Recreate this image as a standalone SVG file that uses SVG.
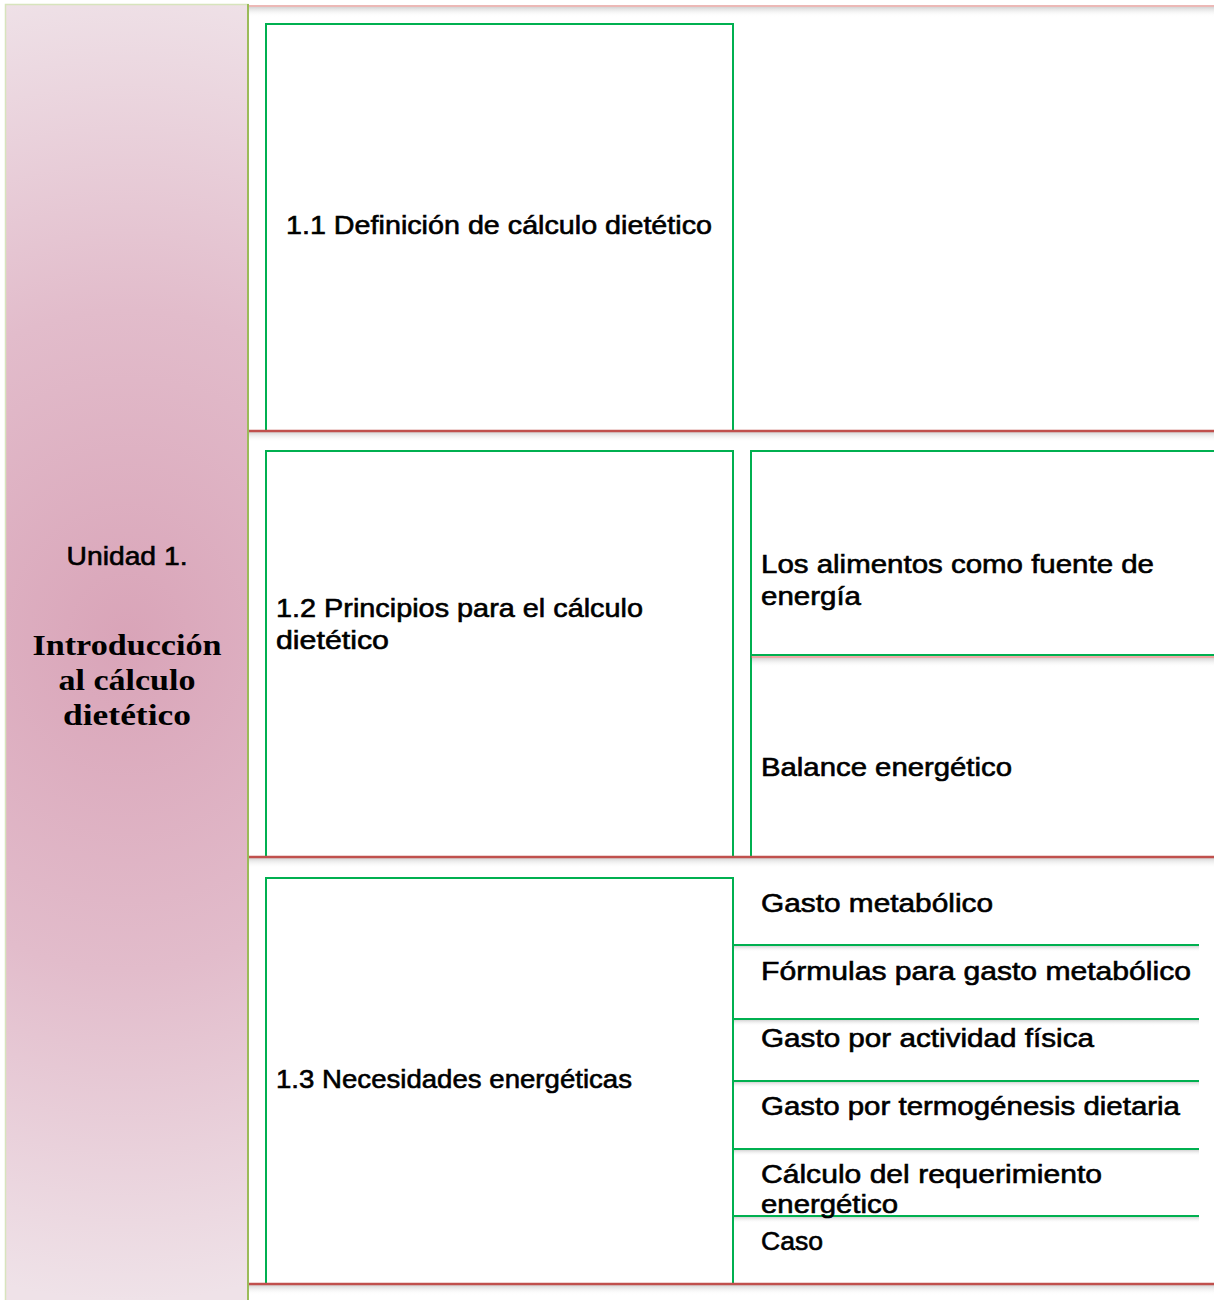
<svg xmlns="http://www.w3.org/2000/svg" width="1214" height="1300" viewBox="0 0 1214 1300">
  <defs>
    <radialGradient id="unitFill" cx="127" cy="640" r="660" gradientUnits="userSpaceOnUse" gradientTransform="translate(127 640) scale(0.9 1) translate(-127 -640)">
      <stop offset="0" stop-color="#d9a4b8"/>
      <stop offset="0.5" stop-color="#e2bccb"/>
      <stop offset="1" stop-color="#efe2e8"/>
    </radialGradient>
    <linearGradient id="shadow" x1="0" y1="0" x2="0" y2="1">
      <stop offset="0" stop-color="#cfcfcf" stop-opacity="0.9"/>
      <stop offset="1" stop-color="#ffffff" stop-opacity="0"/>
    </linearGradient>
    <style>
      .box { fill: #ffffff; stroke: #00b050; stroke-width: 2; }
      .green { stroke: #00b050; stroke-width: 2; fill: none; }
      .red { stroke: #c0504d; stroke-width: 2.5; fill: none; }
      .shade { fill: url(#shadow); }
      .t { font-family: "Liberation Sans", "DejaVu Sans", sans-serif; font-size: 26px; fill: #000000; stroke: #000000; stroke-width: 0.6; }
      .serif { font-family: "Liberation Serif", "DejaVu Serif", serif; font-size: 30px; font-weight: bold; fill: #000000; }
    </style>
  </defs>

  <rect width="1214" height="1300" fill="#ffffff"/>

  <!-- unit column -->
  <g id="unit">
    <rect x="5.5" y="4.5" width="242.5" height="1300" fill="url(#unitFill)" stroke="#d7e4bc" stroke-width="1.5"/>
    <line x1="248" y1="4" x2="248" y2="1300" stroke="#9bbb59" stroke-width="2"/>
    <text class="t" x="127" y="565" text-anchor="middle" textLength="121" lengthAdjust="spacingAndGlyphs">Unidad 1.</text>
    <text class="serif" x="127" y="655" text-anchor="middle" textLength="189" lengthAdjust="spacingAndGlyphs">Introducción</text>
    <text class="serif" x="127" y="690" text-anchor="middle" textLength="137" lengthAdjust="spacingAndGlyphs">al cálculo</text>
    <text class="serif" x="127" y="725" text-anchor="middle" textLength="128" lengthAdjust="spacingAndGlyphs">dietético</text>
  </g>

  <!-- row separators with their shadows -->
  <g id="connectors">
    <rect class="shade" x="249" y="7" width="965" height="10"/>
    <line x1="249" y1="6" x2="1214" y2="6" stroke="#e6a09e" stroke-width="1.5"/>
    <rect class="shade" x="249" y="432" width="965" height="10"/>
    <rect class="shade" x="249" y="858" width="965" height="10"/>
    <rect class="shade" x="249" y="1285" width="965" height="10"/>
    <rect class="shade" x="751" y="658" width="463" height="9"/>
    <rect class="shade" x="734" y="946" width="465" height="6"/>
    <rect class="shade" x="734" y="1020" width="465" height="6"/>
    <rect class="shade" x="734" y="1082" width="465" height="6"/>
    <rect class="shade" x="734" y="1150" width="465" height="6"/>
    <rect class="shade" x="734" y="1217" width="465" height="6"/>
  </g>

  <!-- 1.1 -->
  <g id="topic-1-1">
    <rect class="box" x="266" y="24" width="467" height="407"/>
    <text class="t" x="286" y="234" textLength="426" lengthAdjust="spacingAndGlyphs">1.1 Definición de cálculo dietético</text>
  </g>

  <!-- 1.2 -->
  <g id="topic-1-2">
    <rect class="box" x="266" y="451" width="467" height="406"/>
    <text class="t" x="276" y="617" textLength="367" lengthAdjust="spacingAndGlyphs">1.2 Principios para el cálculo</text>
    <text class="t" x="276" y="649" textLength="113" lengthAdjust="spacingAndGlyphs">dietético</text>
  </g>

  <g id="topic-1-2-a">
    <path class="green" d="M751 657 V451 H1215"/>
    <line class="green" x1="751" y1="655" x2="1214" y2="655"/>
    <text class="t" x="761" y="573" textLength="393" lengthAdjust="spacingAndGlyphs">Los alimentos como fuente de</text>
    <text class="t" x="761" y="605" textLength="100" lengthAdjust="spacingAndGlyphs">energía</text>
  </g>

  <g id="topic-1-2-b">
    <line class="green" x1="751" y1="657" x2="751" y2="857"/>
    <line x1="751" y1="657" x2="1214" y2="657" stroke="#e05050" stroke-width="1"/>
    <text class="t" x="761" y="776" textLength="251" lengthAdjust="spacingAndGlyphs">Balance energético</text>
  </g>

  <!-- 1.3 -->
  <g id="topic-1-3">
    <rect class="box" x="266" y="878" width="467" height="406"/>
    <text class="t" x="276" y="1088" textLength="356" lengthAdjust="spacingAndGlyphs">1.3 Necesidades energéticas</text>
  </g>

  <g id="topic-1-3-list">
    <line class="green" x1="733" y1="945" x2="1199" y2="945"/>
    <line class="green" x1="733" y1="1019" x2="1199" y2="1019"/>
    <line class="green" x1="733" y1="1081" x2="1199" y2="1081"/>
    <line class="green" x1="733" y1="1149" x2="1199" y2="1149"/>
    <line class="green" x1="733" y1="1216" x2="1199" y2="1216"/>
    <text class="t" x="761" y="912" textLength="232" lengthAdjust="spacingAndGlyphs">Gasto metabólico</text>
    <text class="t" x="761" y="980" textLength="430" lengthAdjust="spacingAndGlyphs">Fórmulas para gasto metabólico</text>
    <text class="t" x="761" y="1047" textLength="333" lengthAdjust="spacingAndGlyphs">Gasto por actividad física</text>
    <text class="t" x="761" y="1115" textLength="419" lengthAdjust="spacingAndGlyphs">Gasto por termogénesis dietaria</text>
    <text class="t" x="761" y="1183" textLength="341" lengthAdjust="spacingAndGlyphs">Cálculo del requerimiento</text>
    <text class="t" x="761" y="1213" textLength="137" lengthAdjust="spacingAndGlyphs">energético</text>
    <text class="t" x="761" y="1250" textLength="62" lengthAdjust="spacingAndGlyphs">Caso</text>
  </g>

  <!-- red row rules drawn over box edges -->
  <g id="rules">
    <line class="red" x1="249" y1="431" x2="1214" y2="431"/>
    <line class="red" x1="249" y1="857" x2="1214" y2="857"/>
    <line class="red" x1="249" y1="1284" x2="1214" y2="1284"/>
  </g>
</svg>
